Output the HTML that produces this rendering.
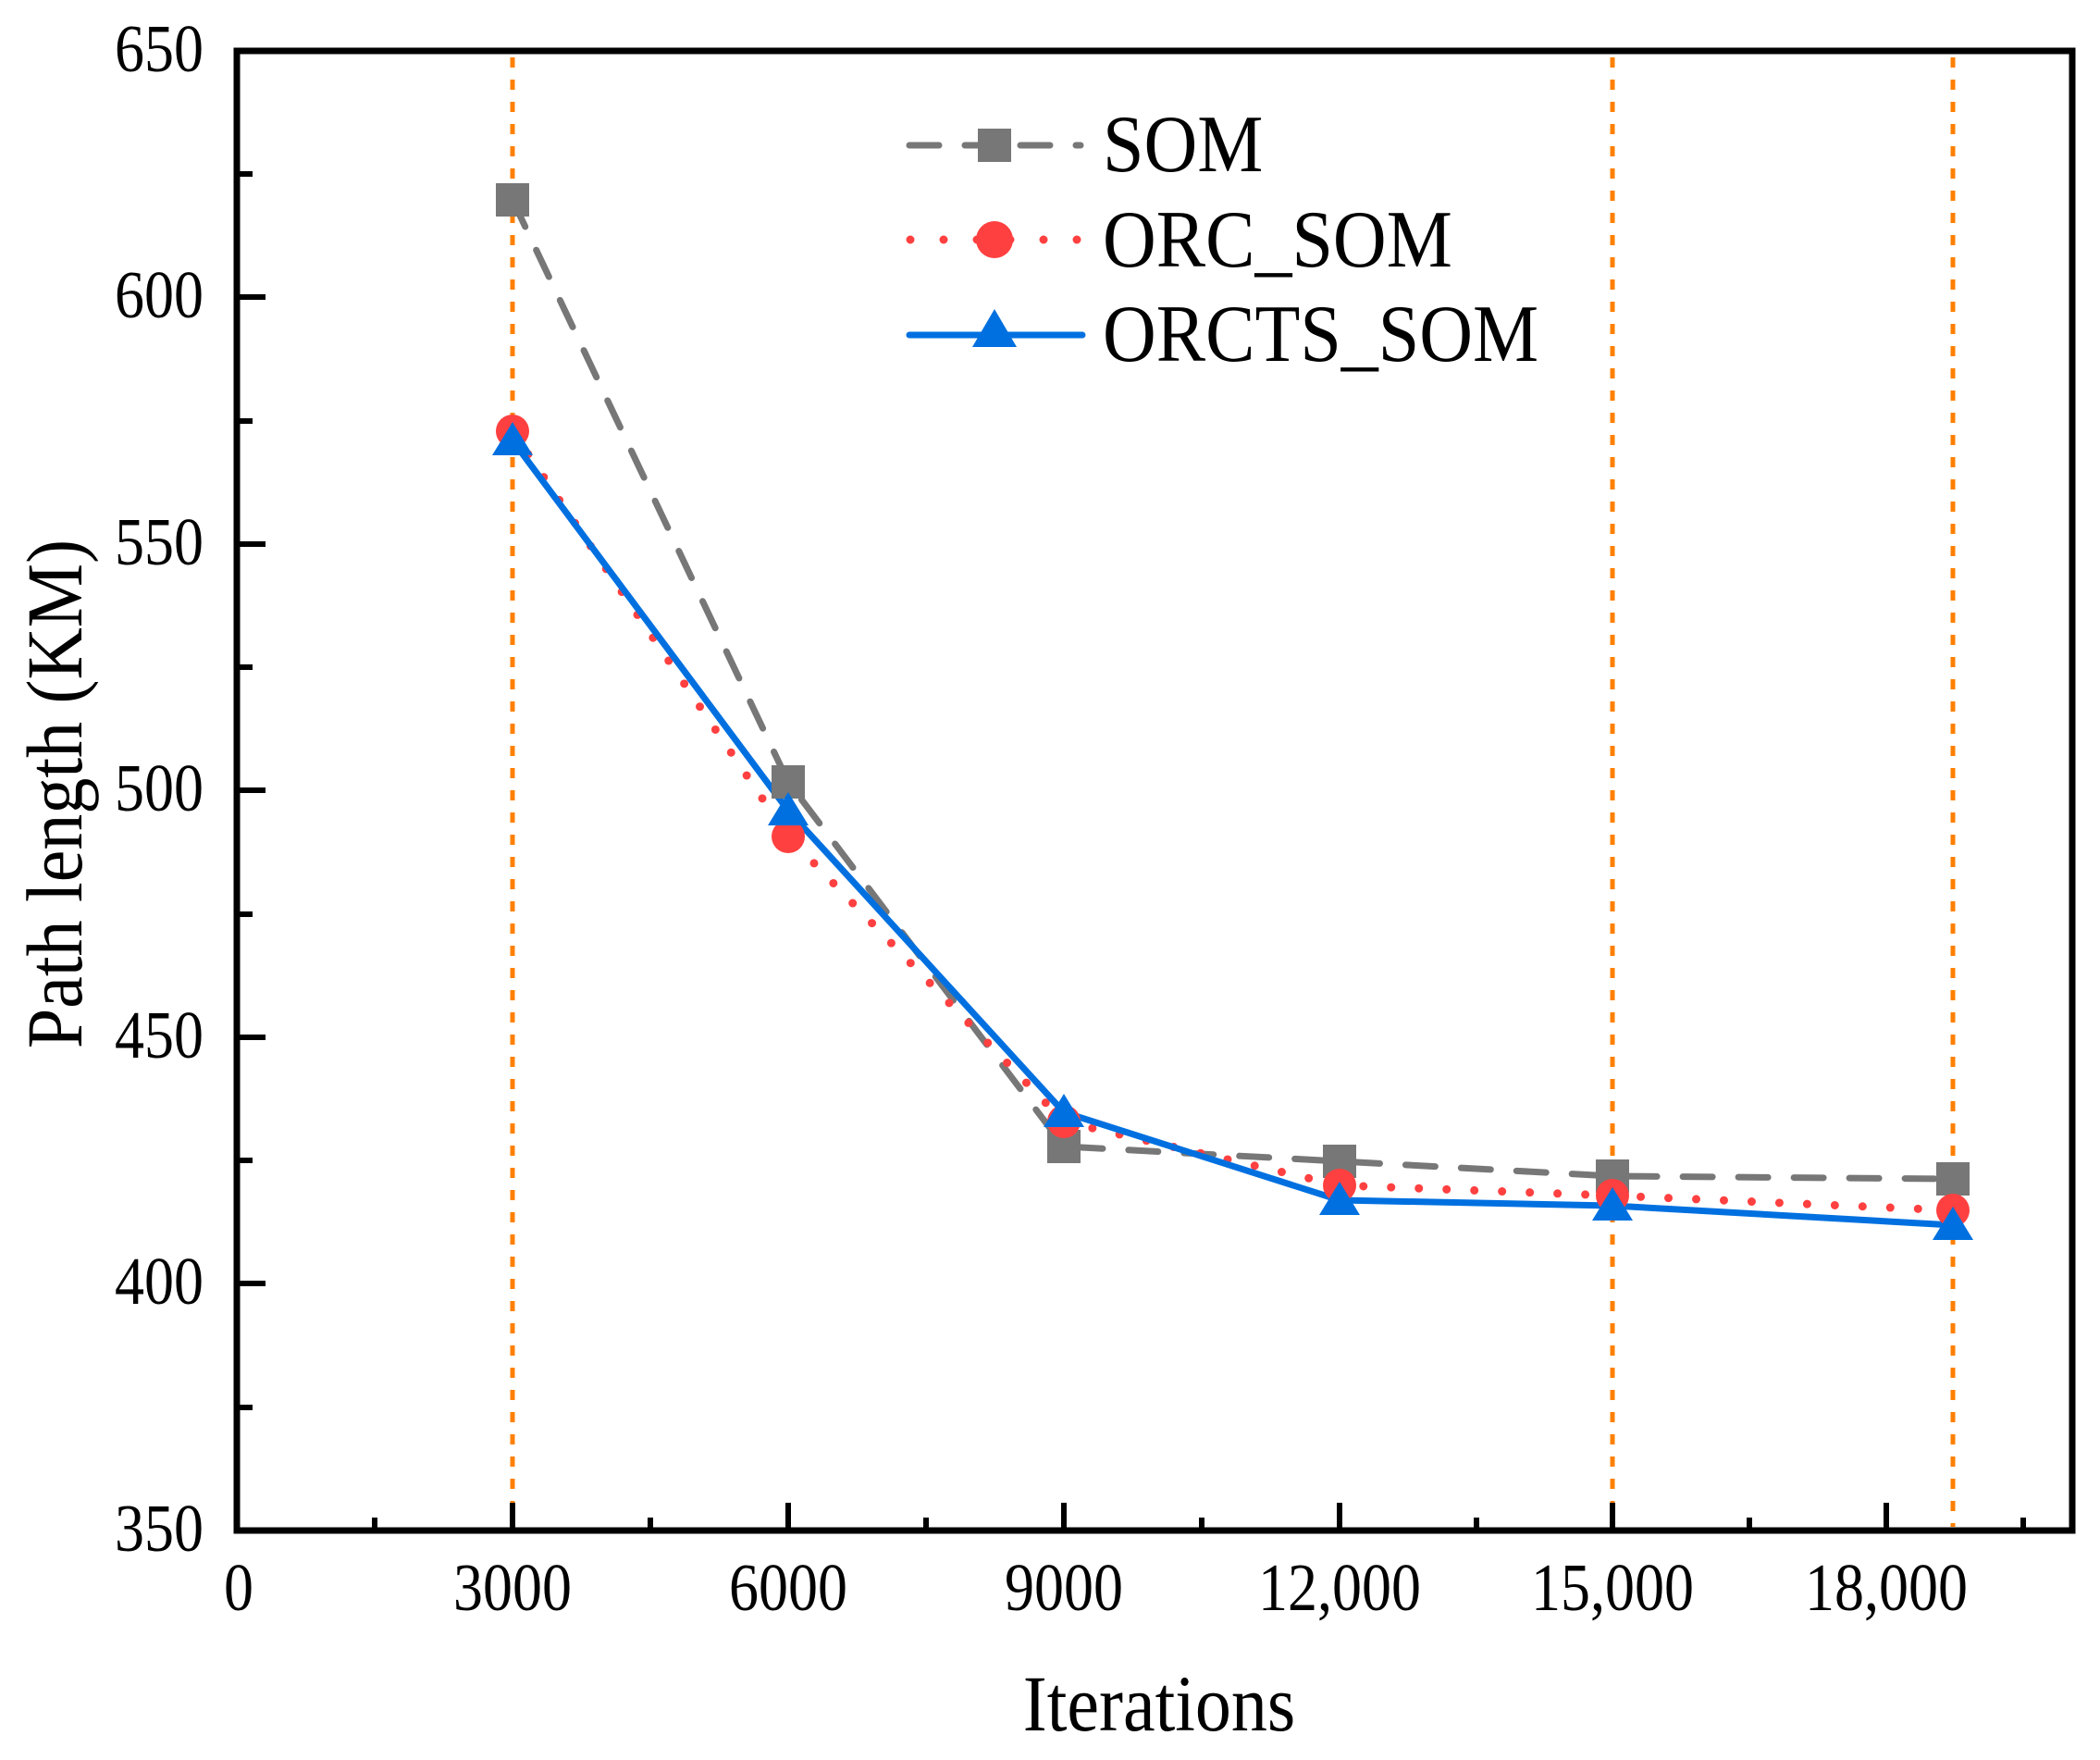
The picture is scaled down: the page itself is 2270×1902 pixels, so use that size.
<!DOCTYPE html>
<html><head><style>body{margin:0;background:#fff}svg{display:block}</style></head><body>
<svg width="2270" height="1902" xmlns="http://www.w3.org/2000/svg" font-family="'Liberation Serif',serif">
<g stroke="#ff8000" stroke-width="5" stroke-dasharray="11 13">
<line x1="554" y1="62" x2="554" y2="1650"/>
<line x1="1743" y1="62" x2="1743" y2="1650"/>
<line x1="2111" y1="62" x2="2111" y2="1650"/>
</g>
<polyline fill="none" stroke="#777" stroke-width="7" stroke-dasharray="32 28" stroke-linecap="round" points="554,216 852,845 1150,1239 1448,1255 1743,1271 2111,1274"/>
<polyline fill="none" stroke="#ff4040" stroke-width="9" stroke-dasharray="0 30" stroke-linecap="round" points="554,466 852,904 1150,1212 1448,1281 1743,1292 2111,1308"/>
<polyline fill="none" stroke="#0070e0" stroke-width="7" points="554,476 852,876 1150,1202 1448,1297 1743,1303 2111,1324"/>
<g fill="#777">
<rect x="536" y="198" width="36" height="36"/><rect x="834" y="827" width="36" height="36"/><rect x="1132" y="1221" width="36" height="36"/><rect x="1430" y="1237" width="36" height="36"/><rect x="1725" y="1253" width="36" height="36"/><rect x="2093" y="1256" width="36" height="36"/>
</g>
<g fill="#ff4040">
<circle cx="554" cy="466" r="18"/><circle cx="852" cy="904" r="18"/><circle cx="1150" cy="1212" r="18"/><circle cx="1448" cy="1281" r="18"/><circle cx="1743" cy="1292" r="18"/><circle cx="2111" cy="1308" r="18"/>
</g>
<g fill="#0070e0">
<polygon points="554,456 532,492 576,492"/><polygon points="852,856 830,892 874,892"/><polygon points="1150,1182 1128,1218 1172,1218"/><polygon points="1448,1277 1426,1313 1470,1313"/><polygon points="1743,1283 1721,1319 1765,1319"/><polygon points="2111,1304 2089,1340 2133,1340"/>
</g>
<rect x="256" y="55" width="1984" height="1599" fill="none" stroke="#000" stroke-width="7"/>
<g stroke="#000" stroke-width="6">
<line x1="256" y1="321" x2="287" y2="321"/><line x1="256" y1="588" x2="287" y2="588"/><line x1="256" y1="854" x2="287" y2="854"/><line x1="256" y1="1121" x2="287" y2="1121"/><line x1="256" y1="1387" x2="287" y2="1387"/>
<line x1="256" y1="188" x2="273" y2="188"/><line x1="256" y1="455" x2="273" y2="455"/><line x1="256" y1="721" x2="273" y2="721"/><line x1="256" y1="988" x2="273" y2="988"/><line x1="256" y1="1254" x2="273" y2="1254"/><line x1="256" y1="1521" x2="273" y2="1521"/>
<line x1="554" y1="1654" x2="554" y2="1624"/><line x1="852" y1="1654" x2="852" y2="1624"/><line x1="1150" y1="1654" x2="1150" y2="1624"/><line x1="1448" y1="1654" x2="1448" y2="1624"/><line x1="1743" y1="1654" x2="1743" y2="1624"/><line x1="2039" y1="1654" x2="2039" y2="1624"/>
<line x1="405" y1="1654" x2="405" y2="1640"/><line x1="703" y1="1654" x2="703" y2="1640"/><line x1="1001" y1="1654" x2="1001" y2="1640"/><line x1="1299" y1="1654" x2="1299" y2="1640"/><line x1="1596" y1="1654" x2="1596" y2="1640"/><line x1="1891" y1="1654" x2="1891" y2="1640"/><line x1="2187" y1="1654" x2="2187" y2="1640"/>
</g>
<g font-size="64" text-anchor="end">
<text transform="translate(220,77) scale(1,1.15)">650</text><text transform="translate(220,343) scale(1,1.15)">600</text><text transform="translate(220,610) scale(1,1.15)">550</text><text transform="translate(220,876) scale(1,1.15)">500</text><text transform="translate(220,1143) scale(1,1.15)">450</text><text transform="translate(220,1409) scale(1,1.15)">400</text><text transform="translate(220,1676) scale(1,1.15)">350</text>
</g>
<g font-size="64" text-anchor="middle">
<text transform="translate(258,1740) scale(1,1.15)">0</text><text transform="translate(554,1740) scale(1,1.15)">3000</text><text transform="translate(852,1740) scale(1,1.15)">6000</text><text transform="translate(1150,1740) scale(1,1.15)">9000</text><text transform="translate(1448,1740) scale(1,1.15)">12,000</text><text transform="translate(1743,1740) scale(1,1.15)">15,000</text><text transform="translate(2039,1740) scale(1,1.15)">18,000</text>
</g>
<text transform="translate(1253,1870) scale(1,1.1)" font-size="78" text-anchor="middle">Iterations</text>
<text transform="translate(88,858) rotate(-90) scale(1,1.1)" font-size="78" text-anchor="middle">Path length (KM)</text>
<line x1="983" y1="157" x2="1168" y2="157" stroke="#777" stroke-width="7" stroke-dasharray="32 28" stroke-linecap="round"/>
<rect x="1057" y="139" width="36" height="36" fill="#777"/>
<line x1="984" y1="259" x2="1168" y2="259" stroke="#ff4040" stroke-width="9" stroke-dasharray="0 36" stroke-linecap="round"/>
<circle cx="1075" cy="259" r="20" fill="#ff4040"/>
<line x1="983" y1="362" x2="1170" y2="362" stroke="#0070e0" stroke-width="7" stroke-linecap="round"/>
<polygon points="1075,334 1051,375 1099,375" fill="#0070e0"/>
<g font-size="80">
<text transform="translate(1192,185) scale(1,1.1)">SOM</text><text transform="translate(1192,288) scale(1,1.1)">ORC_SOM</text><text transform="translate(1192,390) scale(1,1.1)">ORCTS_SOM</text>
</g>
</svg>
</body></html>
